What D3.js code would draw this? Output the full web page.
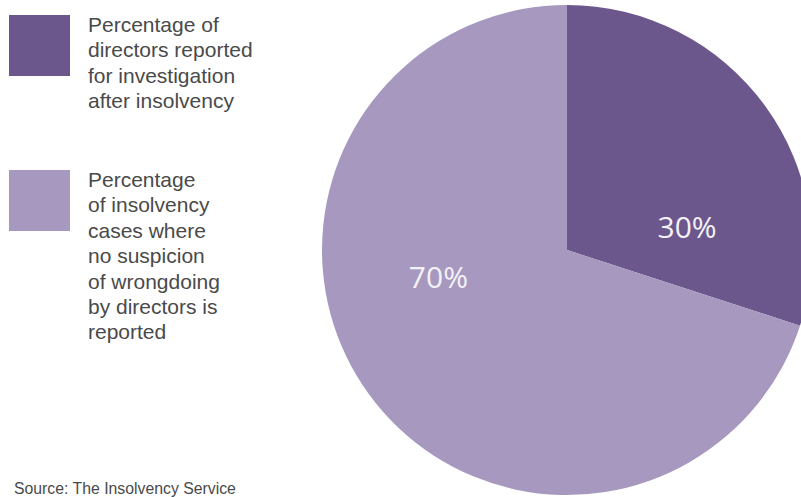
<!DOCTYPE html>
<html>
<head>
<meta charset="utf-8">
<script src="https://cdn.jsdelivr.net/npm/d3@7"></script>
<style>
  html, body { margin: 0; padding: 0; background: #ffffff; }
  svg { display: block; }
</style>
</head>
<body>
<svg id="chart" width="801" height="497"></svg>
<script>
// Share of insolvency cases by outcome for directors
const categories = [
  ["Percentage of", "directors reported", "for investigation", "after insolvency"],
  ["Percentage", "of insolvency", "cases where", "no suspicion", "of wrongdoing", "by directors is", "reported"]
];
const values = [30, 70];
const valueLabels = ["30%", "70%"];
const sourceText = "Source: The Insolvency Service";

const colors = ["#6b578c", "#a698be"];

const W = 801, H = 497;
const svg = d3.select("#chart");

// Pie geometry
const cx = 567, cy = 250, radius = 245;

const pie = d3.pie().sort(null).value(d => d)
  .startAngle(0).endAngle(2 * Math.PI);
const arcs = pie(values);
const arc = d3.arc().innerRadius(0).outerRadius(radius);

const g = svg.append("g").attr("transform", `translate(${cx},${cy})`);
g.selectAll("path.slice")
  .data(arcs)
  .join("path")
  .attr("class", "slice")
  .attr("d", arc)
  .attr("fill", (d, i) => colors[i]);

// Value labels, placed inside each slice near the horizontal axis
const labelOffset = [[0.49, -0.095], [-0.525, 0.107]];
g.selectAll("text.value")
  .data(arcs)
  .join("text")
  .attr("class", "value")
  .attr("x", (d, i) => labelOffset[i][0] * radius)
  .attr("y", (d, i) => labelOffset[i][1] * radius)
  .attr("text-anchor", "middle")
  .attr("dominant-baseline", "central")
  .attr("font-family", "'Open Sans', sans-serif")
  .attr("font-size", 30)
  .attr("fill", "#f4f2f7")
  .text((d, i) => valueLabels[i]);

// Legend
const legendTop = [15, 170];
const lineH = 25.4;
const legend = svg.append("g").attr("class", "legend");
categories.forEach((lines, i) => {
  const item = legend.append("g").attr("transform", `translate(9,${legendTop[i]})`);
  item.append("rect")
    .attr("width", 61).attr("height", 61)
    .attr("fill", colors[i]);
  const t = item.append("text")
    .attr("x", 79)
    .attr("y", 17)
    .attr("font-family", "'Liberation Sans', Arial, sans-serif")
    .attr("font-size", 21)
    .attr("fill", "#4a4a4a");
  lines.forEach((ln, j) => {
    t.append("tspan").attr("x", 79).attr("y", 17 + j * lineH).text(ln);
  });
});

// Source note
svg.append("text")
  .attr("x", 14)
  .attr("y", 494)
  .attr("font-family", "'Liberation Sans', Arial, sans-serif")
  .attr("font-size", 15.8)
  .attr("fill", "#4a4a4a")
  .text(sourceText);
</script>
</body>
</html>
